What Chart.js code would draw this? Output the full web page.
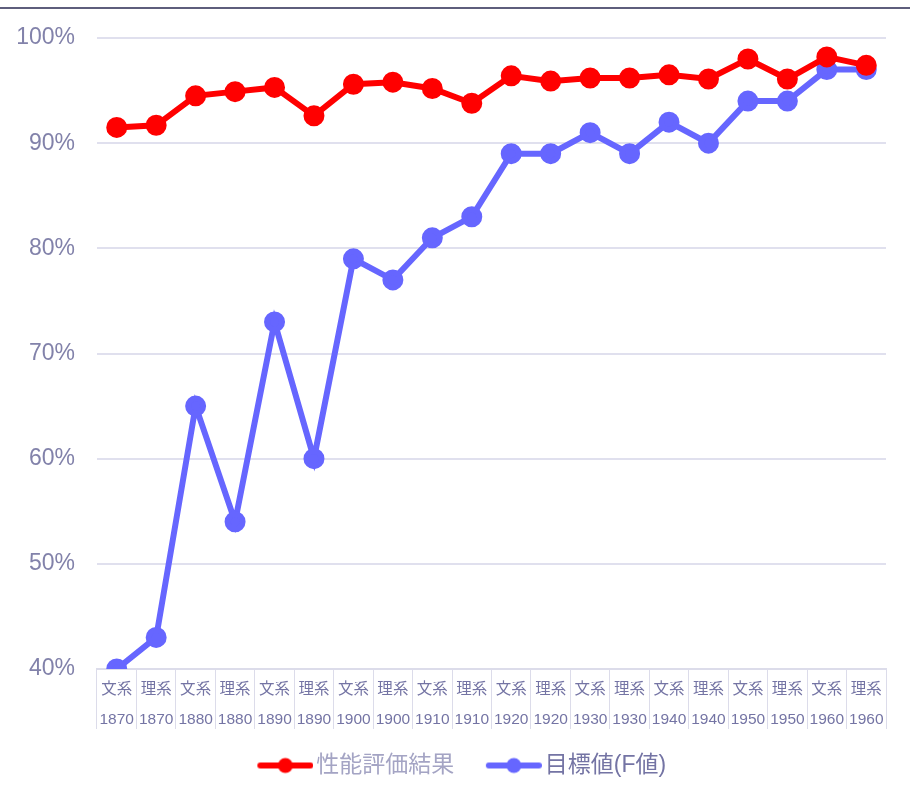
<!DOCTYPE html>
<html>
<head>
<meta charset="utf-8">
<script src="https://cdn.jsdelivr.net/npm/chart.js@4"></script>
<style>
  body { margin: 0; background: #fff; }
  #wrap { position: relative; width: 910px; height: 797px; }
  #topline { position: absolute; left: 0; top: 7px; width: 910px; height: 2px; background: #5e5e7c; }
</style>
</head>
<body>
<div id="wrap">
  <div id="topline"></div>
  <canvas id="myChart" width="910" height="797"></canvas>
</div>
<script>
const fields = ['文系', '理系', '文系', '理系', '文系', '理系', '文系', '理系', '文系', '理系',
                '文系', '理系', '文系', '理系', '文系', '理系', '文系', '理系', '文系', '理系'];
const years = ['1870', '1870', '1880', '1880', '1890', '1890', '1900', '1900', '1910', '1910',
               '1920', '1920', '1930', '1930', '1940', '1940', '1950', '1950', '1960', '1960'];
const resultValues = [91.5, 91.7, 94.5, 94.9, 95.3, 92.6, 95.6, 95.8, 95.2, 93.8,
                      96.4, 95.9, 96.2, 96.2, 96.5, 96.1, 98.0, 96.1, 98.2, 97.4];
const targetValues = [40, 43, 65, 54, 73, 60, 79, 77, 81, 83,
                      89, 89, 91, 89, 92, 90, 94, 94, 97, 97];
const yTicks = [40, 50, 60, 70, 80, 90, 100];

const FONT = "'Liberation Sans', Arial, 'Noto Sans CJK JP', sans-serif";

// legend icon: line with a dot, drawn at the right end of a wider transparent canvas
function legendIcon(color)
{
  const c = document.createElement('canvas');
  c.width = 86;
  c.height = 18;
  const g = c.getContext('2d');
  g.strokeStyle = color;
  g.lineWidth = 6;
  g.lineCap = 'round';
  g.beginPath();
  g.moveTo(33, 9);
  g.lineTo(83, 9);
  g.stroke();
  g.fillStyle = color;
  g.beginPath();
  g.arc(58, 9, 7.5, 0, Math.PI * 2);
  g.fill();
  return c;
}

const labels = fields.map((f, i) => [f, years[i]]);

const data = {
  labels: labels,
  datasets: [{
    label: '性能評価結果',
    data: resultValues,
    borderColor: '#ff0000',
    backgroundColor: '#ff0000',
    borderWidth: 6,
    pointRadius: 7.5,
    pointHoverRadius: 7.5,
    tension: 0
  }, {
    label: '目標値(F値)',
    data: targetValues,
    borderColor: '#6666ff',
    backgroundColor: '#6666ff',
    borderWidth: 6,
    pointRadius: 7.5,
    pointHoverRadius: 7.5,
    tension: 0
  }]
};

const legendColors = ['#a4a4c4', '#7474a4'];

const config = {
  type: 'line',
  data: data,
  options: {
    responsive: false,
    animation: false,
    layout: { padding: { top: 38, left: 16, right: 24, bottom: 10 } },
    plugins: {
      tooltip: { enabled: false },
      legend: {
        position: 'bottom',
        labels: {
          usePointStyle: true,
          pointStyleWidth: 69,
          padding: 10,
          font: { family: FONT, size: 23 },
          generateLabels: function(chart) {
            return chart.data.datasets.map((ds, i) => ({
              text: ds.label,
              datasetIndex: i,
              pointStyle: legendIcon(ds.borderColor),
              fontColor: legendColors[i],
              fillStyle: ds.borderColor,
              strokeStyle: ds.borderColor,
              lineWidth: 0,
              hidden: false
            }));
          }
        }
      }
    },
    scales: {
      x: {
        offset: true,
        grid: {
          offset: true,
          drawOnChartArea: false,
          drawTicks: true,
          tickLength: 60,
          color: '#dcdcea'
        },
        border: { color: '#dcdcea', width: 2 },
        ticks: {
          padding: -54,
          maxRotation: 0,
          autoSkip: false,
          color: '#7474a4',
          font: { family: FONT, size: 15.5, lineHeight: 1.935 }
        },
        afterFit: function(scale) { scale.height = 75; }
      },
      y: {
        min: 40,
        max: 100,
        afterBuildTicks: function(scale) { scale.ticks = yTicks.map(v => ({ value: v })); },
        grid: { color: '#e0e0ee', lineWidth: 2, drawTicks: false },
        border: { display: false },
        ticks: {
          padding: 22,
          color: '#8282aa',
          font: { family: FONT, size: 23 },
          callback: function(v) { return v + '%'; }
        },
        afterFit: function(scale) { scale.width = 81; }
      }
    }
  }
};

let ctx = document.getElementById('myChart').getContext('2d');
let myChart = new Chart(ctx, config);
</script>
</body>
</html>
